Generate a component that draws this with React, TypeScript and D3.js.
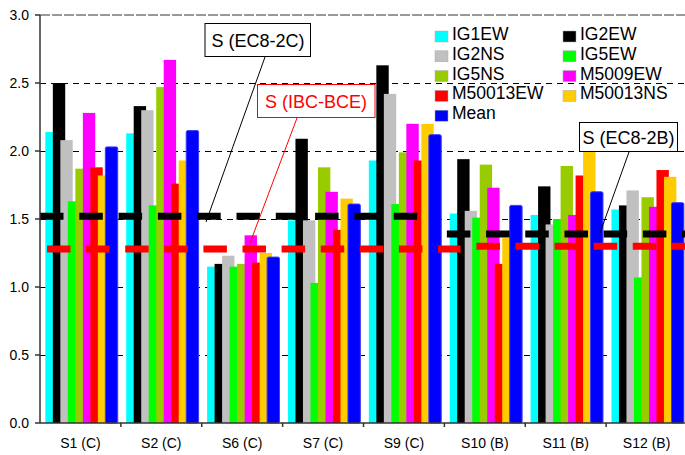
import React from "react";
import * as d3 from "d3";

const categories = ["S1 (C)", "S2 (C)", "S6 (C)", "S7 (C)", "S9 (C)", "S10 (B)", "S11 (B)", "S12 (B)"];

const seriesNames = ["IG1EW", "IG2EW", "IG2NS", "IG5EW", "IG5NS", "M5009EW", "M50013EW", "M50013NS", "Mean"];
const seriesColors = ["#00FFFF", "#000000", "#C0C0C0", "#00FF00", "#99CC00", "#FF00FF", "#FF0000", "#FFCC00", "#0000FF"];

const IG1EW = [2.14, 2.13, 1.15, 1.49, 1.93, 1.54, 1.53, 1.57];
const IG2EW = [2.5, 2.33, 1.17, 2.09, 2.63, 1.94, 1.74, 1.6];
const IG2NS = [2.08, 2.3, 1.23, 1.49, 2.42, 1.56, 1.46, 1.71];
const IG5EW = [1.63, 1.6, 1.15, 1.03, 1.61, 1.51, 1.5, 1.07];
const IG5NS = [1.87, 2.47, 1.17, 1.88, 1.99, 1.9, 1.89, 1.66];
const M5009EW = [2.28, 2.67, 1.38, 1.7, 2.2, 1.73, 1.53, 1.59];
const M50013EW = [1.88, 1.76, 1.18, 1.42, 1.93, 1.17, 1.82, 1.86];
const M50013NS = [1.82, 1.93, 1.25, 1.65, 2.2, 1.36, 2.03, 1.81];
const Mean = [2.03, 2.15, 1.22, 1.61, 2.12, 1.6, 1.7, 1.62];

const seriesValues = [IG1EW, IG2EW, IG2NS, IG5EW, IG5NS, M5009EW, M50013EW, M50013NS, Mean];

const yTicks = [0, 0.5, 1.0, 1.5, 2.0, 2.5, 3.0];

// spectrum levels: EC8 (black) and IBC (red), for soil C and soil B
const ec8C = 1.52;
const ec8B = 1.39;
const ibcC = 1.28;
const ibcB = 1.3;

const font = "Arial, 'Liberation Sans', sans-serif";

const App = () => {
  const width = 685;
  const height = 455;
  const left = 40;
  const right = 687;
  const top = 15;
  const bottom = 423;

  const x = d3.scaleBand().domain(categories).range([left, right]);
  const y = d3.scaleLinear().domain([0, 3]).range([bottom, top]);
  const bw = x.bandwidth();
  // bar offsets inside a group (Excel style overlap)
  const inner = d3.scaleLinear().domain([0, 8]).range([bw * 0.066, bw * 0.066 + bw * 0.742]);
  const barW = bw * 0.153;

  const legendRows = seriesNames.map((n, i) => ({
    name: n,
    color: seriesColors[i],
    col: i === 8 ? 0 : i % 2,
    row: i === 8 ? 4 : Math.floor(i / 2),
  }));

  const legendX = [435, 563];

  const c0 = x(categories[0])!;
  const cB = x(categories[5])!;

  return (
    <svg width={width} height={height} style={{ position: "absolute", left: 0, top: 0, background: "#fff" }}>
      {/* grid */}
      {yTicks.filter((t) => t > 0 && t < 3).map((t) => (
        <line key={t} x1={left} x2={right} y1={y(t) + 0.5} y2={y(t) + 0.5} stroke="#000" strokeWidth={1} strokeDasharray="6 5" shapeRendering="crispEdges" />
      ))}
      <line x1={left} x2={right} y1={y(3)} y2={y(3)} stroke="#999" strokeWidth={2} strokeDasharray="10 2" />

      {/* bars */}
      {categories.map((c, ci) => (
        <g key={c}>
          {seriesValues.map((vals, si) => (
            <rect
              key={si}
              x={x(c)! + inner(si)}
              y={y(vals[ci])}
              width={barW}
              height={y(0) - y(vals[ci])}
              fill={seriesColors[si]}
              stroke={si === 8 ? "#3a3aff" : "none"}
              strokeWidth={si === 8 ? 1 : 0}
              rx={si === 8 ? 1.5 : 0}
            />
          ))}
        </g>
      ))}

      {/* reference spectrum levels */}
      <line x1={c0} x2={c0 + bw * 4.71} y1={y(ec8C)} y2={y(ec8C)} stroke="#000" strokeWidth={7} strokeDasharray="23.5 15.8" />
      <line x1={cB + 2.5} x2={right} y1={y(ec8B)} y2={y(ec8B)} stroke="#000" strokeWidth={7} strokeDasharray="23.5 15.7" />
      <line x1={c0 + 7} x2={c0 + bw * 5.2} y1={y(ibcC)} y2={y(ibcC)} stroke="#FF0000" strokeWidth={7} strokeDasharray="23.5 15.6" />
      <line x1={cB + 32} x2={right} y1={y(ibcB)} y2={y(ibcB)} stroke="#FF0000" strokeWidth={7} strokeDasharray="23.5 15.6" />

      {/* axes */}
      <line x1={left} x2={left} y1={top} y2={bottom} stroke="#333" strokeWidth={1.5} />
      <line x1={left} x2={right} y1={bottom} y2={bottom} stroke="#333" strokeWidth={1.5} />
      {yTicks.map((t) => (
        <g key={t}>
          <line x1={left - 5} x2={left} y1={y(t)} y2={y(t)} stroke="#333" strokeWidth={1.5} />
          <text x={29} y={y(t) + 5} textAnchor="end" fontFamily={font} fontSize={14} fill="#000">
            {t.toFixed(1)}
          </text>
        </g>
      ))}
      {categories.map((c, i) => (
        <g key={c}>
          {i > 0 && <line x1={x(c)} x2={x(c)} y1={bottom} y2={bottom + 4} stroke="#333" strokeWidth={1.5} />}
          <text x={x(c)! + bw / 2} y={448} textAnchor="middle" fontFamily={font} fontSize={14} fill="#000">
            {c}
          </text>
        </g>
      ))}

      {/* legend */}
      {legendRows.map((d) => (
        <g key={d.name}>
          <rect x={legendX[d.col]} y={31 + d.row * 19.8} width={13} height={11} fill={d.color} stroke="#aaa" strokeWidth={0.5} />
          <text x={legendX[d.col] + 17} y={40 + d.row * 19.8} fontFamily={font} fontSize={17.5} fill="#000">
            {d.name}
          </text>
        </g>
      ))}

      {/* annotations */}
      <line x1={265} y1={57} x2={206} y2={222} stroke="#000" strokeWidth={1} />
      <rect x={205} y={23.5} width={105.5} height={33} fill="#fff" stroke="#000" strokeWidth={1} />
      <text x={258} y={46.5} textAnchor="middle" fontFamily={font} fontSize={18} fill="#000">S (EC8-2C)</text>

      <line x1={297} y1={118} x2={250} y2={243} stroke="#FF0000" strokeWidth={1} />
      <rect x={257.5} y={84.5} width={117.5} height={33} fill="#fff" stroke="#FF0000" strokeWidth={1} />
      <text x={316} y={107.5} textAnchor="middle" fontFamily={font} fontSize={18} fill="#FF0000">S (IBC-BCE)</text>

      <line x1={629} y1={152} x2={600} y2={233} stroke="#000" strokeWidth={1} />
      <rect x={579.5} y={122.5} width={98} height={29} fill="#fff" stroke="#000" strokeWidth={1} />
      <text x={628.5} y={143.5} textAnchor="middle" fontFamily={font} fontSize={18} fill="#000">S (EC8-2B)</text>
    </svg>
  );
};

export default App;
